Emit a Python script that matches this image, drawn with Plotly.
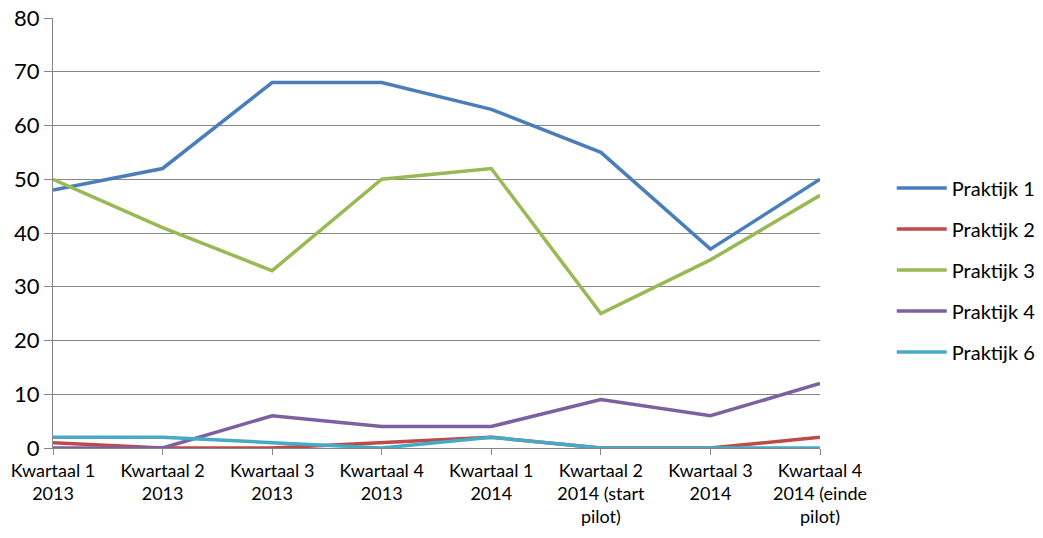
import plotly.graph_objects as go

categories = ["Kwartaal 1<br>2013", "Kwartaal 2<br>2013", "Kwartaal 3<br>2013", "Kwartaal 4<br>2013",
              "Kwartaal 1<br>2014", "Kwartaal 2<br>2014 (start<br>pilot)", "Kwartaal 3<br>2014",
              "Kwartaal 4<br>2014 (einde<br>pilot)"]
praktijk1 = [48, 52, 68, 68, 63, 55, 37, 50]
praktijk2 = [1, 0, 0, 1, 2, 0, 0, 2]
praktijk3 = [50, 41, 33, 50, 52, 25, 35, 47]
praktijk4 = [0, 0, 6, 4, 4, 9, 6, 12]
praktijk6 = [2, 2, 1, 0, 2, 0, 0, 0]

series = [
    ("Praktijk 1", praktijk1, "#4A7EBB"),
    ("Praktijk 2", praktijk2, "#BE4B48"),
    ("Praktijk 3", praktijk3, "#98B954"),
    ("Praktijk 4", praktijk4, "#7D60A0"),
    ("Praktijk 6", praktijk6, "#46AAC5"),
]

FAM = "Lato, 'Open Sans', sans-serif"

fig = go.Figure()
for name, vals, color in series:
    fig.add_trace(go.Scatter(x=list(range(len(categories))), y=vals, name=name, mode="lines",
                             line=dict(color=color, width=3.5), legendgroup=name))

fig.update_layout(
    width=1043, height=538,
    margin=dict(l=53, r=223, t=18, b=90),
    paper_bgcolor="white", plot_bgcolor="white",
    font=dict(family=FAM, size=18, color="#000000"),
    showlegend=True,
    legend=dict(xref="container", yref="container", x=0.855, y=0.498,
                xanchor="left", yanchor="middle", tracegroupgap=12,
                font=dict(family=FAM, size=20, color="#000000"),
                itemwidth=50),
    xaxis=dict(tickmode="array", tickvals=list(range(len(categories))), ticktext=categories,
               range=[0, 7], showgrid=False, showline=True, linecolor="#868686", linewidth=1,
               ticks="outside", ticklen=6, tickcolor="#868686", zeroline=False, automargin=False,
               tickfont=dict(family=FAM, size=18, color="#000000")),
    yaxis=dict(range=[0, 80], dtick=10, showgrid=True, gridcolor="#868686", gridwidth=1,
               showline=True, linecolor="#868686", linewidth=1, ticks="outside", ticklen=8,
               tickcolor="#868686", zeroline=False, automargin=False,
               tickfont=dict(family=FAM, size=22, color="#000000")),
)
fig.write_html("out.html")
